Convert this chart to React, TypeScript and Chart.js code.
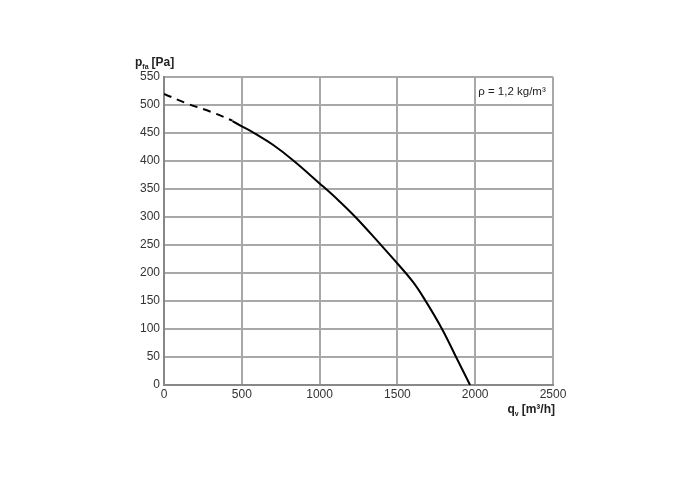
import React, { useEffect, useRef } from "react";
import { Chart, registerables } from "chart.js";

Chart.register(...registerables);

const dashedX = [0, 135, 300, 440];
const dashedY = [520, 504, 488, 472];
const solidX = [440, 500, 585, 700, 831, 1000, 1120, 1230, 1388, 1500, 1600, 1677, 1785, 1877, 1967];
const solidY = [471, 462, 449, 429, 401, 360, 330, 300, 252, 217, 184, 152, 101, 50, 0];
const xTicks = [0, 500, 1000, 1500, 2000, 2500];
const yTicks = [0, 50, 100, 150, 200, 250, 300, 350, 400, 450, 500, 550];
const densityLabel = "ρ = 1,2 kg/m³";

const FONT = "'Liberation Sans', Arial, sans-serif";

const textPlugin = {
  id: "texts",
  afterDraw(chart: any) {
    const ctx = chart.ctx;
    const { left, top, right, bottom } = chart.chartArea;
    ctx.save();
    ctx.fillStyle = "#222";
    ctx.textBaseline = "alphabetic";
    // Y title: p_fa [Pa]
    ctx.font = `bold 12px ${FONT}`;
    ctx.textAlign = "left";
    let x = left - 29;
    const yT = top - 11;
    ctx.fillText("p", x, yT);
    x += ctx.measureText("p").width;
    ctx.font = `bold 7px ${FONT}`;
    ctx.fillText("fa", x, yT + 3);
    x += ctx.measureText("fa").width + 3;
    ctx.font = `bold 12px ${FONT}`;
    ctx.fillText("[Pa]", x, yT);
    // X title: q_v [m³/h]
    const xT = bottom + 28;
    ctx.font = `bold 12px ${FONT}`;
    const w1 = ctx.measureText("q").width;
    const w3 = ctx.measureText("[m³/h]").width;
    ctx.font = `bold 7px ${FONT}`;
    const w2 = ctx.measureText("v").width;
    let sx = right + 2 - (w1 + w2 + 3 + w3);
    ctx.font = `bold 12px ${FONT}`;
    ctx.fillText("q", sx, xT);
    sx += w1;
    ctx.font = `bold 7px ${FONT}`;
    ctx.fillText("v", sx, xT + 3);
    sx += w2 + 3;
    ctx.font = `bold 12px ${FONT}`;
    ctx.fillText("[m³/h]", sx, xT);
    // density annotation
    const xs = chart.scales.x;
    const ys = chart.scales.y;
    ctx.font = `11.5px ${FONT}`;
    ctx.fillStyle = "#222";
    ctx.fillText(densityLabel, xs.getPixelForValue(2000) + 3, (ys.getPixelForValue(550) + ys.getPixelForValue(500)) / 2 + 4);
    ctx.restore();
  },
};

export default function App() {
  const ref = useRef<HTMLCanvasElement>(null);
  useEffect(() => {
    if (!ref.current) return;
    const chart = new Chart(ref.current, {
      type: "scatter",
      data: {
        datasets: [
          {
            data: dashedX.map((v, i) => ({ x: v, y: dashedY[i] })),
            showLine: true,
            borderColor: "#000",
            borderWidth: 2,
            borderDash: [8, 6],
            pointRadius: 0,
            tension: 0.4,
          },
          {
            data: solidX.map((v, i) => ({ x: v, y: solidY[i] })),
            showLine: true,
            borderColor: "#000",
            borderWidth: 2,
            pointRadius: 0,
            tension: 0.4,
          },
        ],
      },
      options: {
        animation: false,
        responsive: false,
        layout: { padding: { left: 100, right: 147, top: 77, bottom: 62 } },
        plugins: { legend: { display: false }, tooltip: { enabled: false } },
        scales: {
          x: {
            type: "linear",
            min: 0,
            max: 2500,
            afterBuildTicks: (s: any) => {
              s.ticks = xTicks.map((v) => ({ value: v }));
            },
            afterFit: (s: any) => {
              s.height = 30;
            },
            ticks: {
              color: "#333",
              font: { family: FONT, size: 12 },
              padding: 2,
              maxRotation: 0,
              callback: (v: any) => String(v),
            },
            grid: { color: "#a8a8a8", lineWidth: 2, drawTicks: false },
            border: { color: "#888", width: 2 },
          },
          y: {
            type: "linear",
            min: 0,
            max: 550,
            afterBuildTicks: (s: any) => {
              s.ticks = yTicks.map((v) => ({ value: v }));
            },
            afterFit: (s: any) => {
              s.width = 64;
            },
            ticks: {
              color: "#333",
              font: { family: FONT, size: 12 },
              padding: 4,
              callback: (v: any) => String(v),
            },
            grid: { color: "#a8a8a8", lineWidth: 2, drawTicks: false },
            border: { color: "#888", width: 2 },
          },
        },
      },
      plugins: [textPlugin],
    } as any);
    return () => chart.destroy();
  }, []);
  return (
    <div style={{ position: "absolute", left: 0, top: 0, width: 700, height: 477, background: "#fff" }}>
      <canvas ref={ref} width={700} height={477} style={{ width: 700, height: 477 }} />
    </div>
  );
}
